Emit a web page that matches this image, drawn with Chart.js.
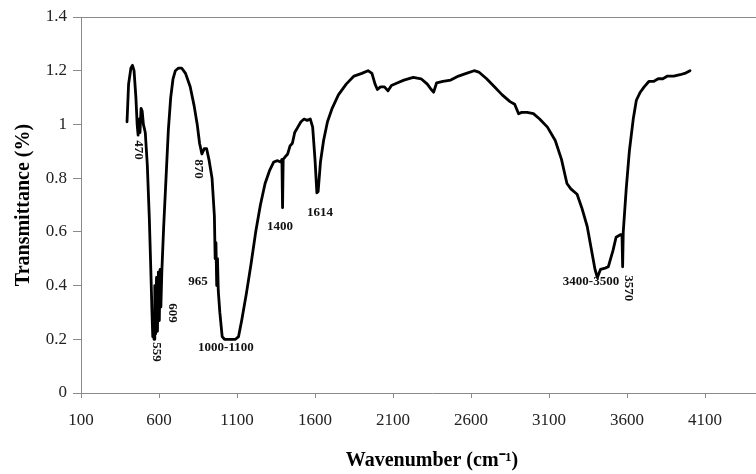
<!DOCTYPE html>
<html><head><meta charset="utf-8">
<script src="https://cdn.jsdelivr.net/npm/chart.js@4/dist/chart.umd.min.js"></script>
<style>
html,body{margin:0;padding:0;overflow:hidden;background:#fff;width:756px;height:474px}
#wrap{position:absolute;left:0;top:0;width:800px;height:474px}
</style>
</head><body><div id="wrap"><canvas id="c" width="800" height="474"></canvas></div>
<script>
const wavenumbers = [395,405,420,430,440,452,460,466,472,478,485,492,500,512,525,538,548,555,560,565,568,573,578,584,590,596,602,607,612,618,630,645,660,675,690,705,725,745,770,800,825,845,860,875,890,905,920,940,955,960,965,970,975,980,990,1005,1020,1060,1090,1110,1130,1160,1190,1220,1250,1280,1310,1335,1360,1380,1388,1392,1396,1410,1425,1440,1455,1470,1490,1510,1530,1550,1570,1585,1600,1612,1620,1635,1655,1680,1710,1750,1800,1850,1900,1940,1965,1985,2000,2020,2045,2068,2090,2130,2170,2230,2280,2320,2345,2360,2380,2420,2470,2520,2570,2620,2650,2700,2750,2800,2850,2880,2905,2925,2960,3000,3040,3090,3140,3180,3215,3240,3280,3310,3345,3370,3395,3410,3430,3460,3480,3510,3530,3560,3568,3572,3576,3595,3615,3640,3660,3685,3710,3740,3770,3800,3830,3860,3900,3940,3970,4004];
const transmittance = [1.01,1.15,1.21,1.22,1.20,1.10,1.00,0.96,1.02,0.97,1.06,1.05,1.00,0.97,0.85,0.65,0.45,0.30,0.21,0.24,0.20,0.40,0.22,0.43,0.23,0.45,0.27,0.46,0.32,0.45,0.62,0.80,0.98,1.10,1.17,1.20,1.21,1.21,1.19,1.14,1.07,1.00,0.93,0.89,0.91,0.91,0.87,0.80,0.66,0.50,0.56,0.40,0.50,0.38,0.30,0.21,0.20,0.20,0.20,0.21,0.27,0.37,0.48,0.60,0.70,0.78,0.83,0.86,0.865,0.86,0.87,0.69,0.87,0.88,0.89,0.92,0.93,0.97,0.99,1.01,1.02,1.015,1.02,0.99,0.87,0.745,0.75,0.86,0.94,1.01,1.06,1.11,1.15,1.18,1.19,1.20,1.19,1.15,1.13,1.14,1.14,1.125,1.145,1.155,1.165,1.175,1.17,1.15,1.13,1.12,1.155,1.16,1.165,1.18,1.19,1.20,1.195,1.17,1.14,1.11,1.085,1.075,1.04,1.045,1.045,1.04,1.02,0.99,0.94,0.87,0.78,0.76,0.74,0.69,0.62,0.54,0.46,0.43,0.46,0.465,0.47,0.53,0.58,0.59,0.59,0.47,0.60,0.76,0.90,1.02,1.09,1.12,1.14,1.16,1.16,1.17,1.17,1.18,1.18,1.185,1.19,1.20];
const xTickValues = [100,600,1100,1600,2100,2600,3100,3600,4100];
const yTickValues = [0,0.2,0.4,0.6,0.8,1,1.2,1.4];
const peakLabels = ['470','559','609','870','965','1000-1100','1400','1614','3400-3500','3570'];
const peakLabelX = [465,581,683,850,850,1029,1376,1632,3369,3606];
const peakLabelY = [0.905,0.153,0.298,0.834,0.413,0.168,0.618,0.67,0.413,0.39];
const peakLabelVertical = [true,true,true,true,false,false,false,false,false,true];

const serif = '"Liberation Serif","Times New Roman",serif';

const annotate = {
  id: 'annotate',
  afterDraw(chart) {
    const {ctx, chartArea, scales} = chart;
    ctx.save();
    ctx.strokeStyle = '#8a8a8a';
    ctx.lineWidth = 1;
    ctx.beginPath();
    ctx.moveTo(chartArea.left, chartArea.top + 0.5);
    ctx.lineTo(chartArea.right, chartArea.top + 0.5);
    ctx.stroke();
    ctx.fillStyle = '#111';
    ctx.font = 'bold 13px ' + serif;
    ctx.textAlign = 'center';
    ctx.textBaseline = 'middle';
    peakLabels.forEach((t, i) => {
      const px = scales.x.getPixelForValue(peakLabelX[i]);
      const py = scales.y.getPixelForValue(peakLabelY[i]);
      ctx.save();
      ctx.translate(px, py);
      if (peakLabelVertical[i]) ctx.rotate(Math.PI / 2);
      ctx.fillText(t, 0, 0);
      ctx.restore();
    });
    ctx.restore();
  }
};

new Chart(document.getElementById('c'), {
  type: 'line',
  data: {
    datasets: [{
      data: wavenumbers.map((w, i) => ({x: w, y: transmittance[i]})),
      borderColor: '#000',
      borderWidth: 2.8,
      pointRadius: 0,
      tension: 0,
      fill: false,
      borderJoinStyle: 'round',
      borderCapStyle: 'round'
    }]
  },
  options: {
    responsive: false,
    animation: false,
    devicePixelRatio: 1,
    layout: {padding: {top: 17, right: 17, left: 0, bottom: 0}},
    plugins: {legend: {display: false}, tooltip: {enabled: false}},
    scales: {
      x: {
        type: 'linear', min: 100, max: 4600,
        afterBuildTicks: s => { s.ticks = xTickValues.map(v => ({value: v})); },
        afterFit: s => { s.height = 81; },
        ticks: {font: {family: serif, size: 17}, color: '#222', padding: 12, maxRotation: 0, autoSkip: false, callback: v => String(v)},
        grid: {drawOnChartArea: false, tickLength: 5, color: '#8a8a8a'},
        border: {color: '#8a8a8a', width: 1},
        title: {display: true, text: 'Wavenumber (cm⁻¹)', color: '#000', font: {family: serif, size: 20, weight: 'bold'}, padding: {top: 0, bottom: 1}}
      },
      y: {
        min: 0, max: 1.4,
        afterBuildTicks: s => { s.ticks = yTickValues.map(v => ({value: v})); },
        afterFit: s => { s.width = 81; },
        ticks: {font: {family: serif, size: 17}, color: '#222', padding: 6, callback: v => String(v)},
        grid: {drawOnChartArea: false, tickLength: 8, color: '#8a8a8a'},
        border: {color: '#8a8a8a', width: 1},
        title: {display: true, text: 'Transmittance (%)', color: '#000', font: {family: serif, size: 20, weight: 'bold'}, padding: {top: 12, bottom: 0}}
      }
    }
  },
  plugins: [annotate]
});
</script>
</body></html>
